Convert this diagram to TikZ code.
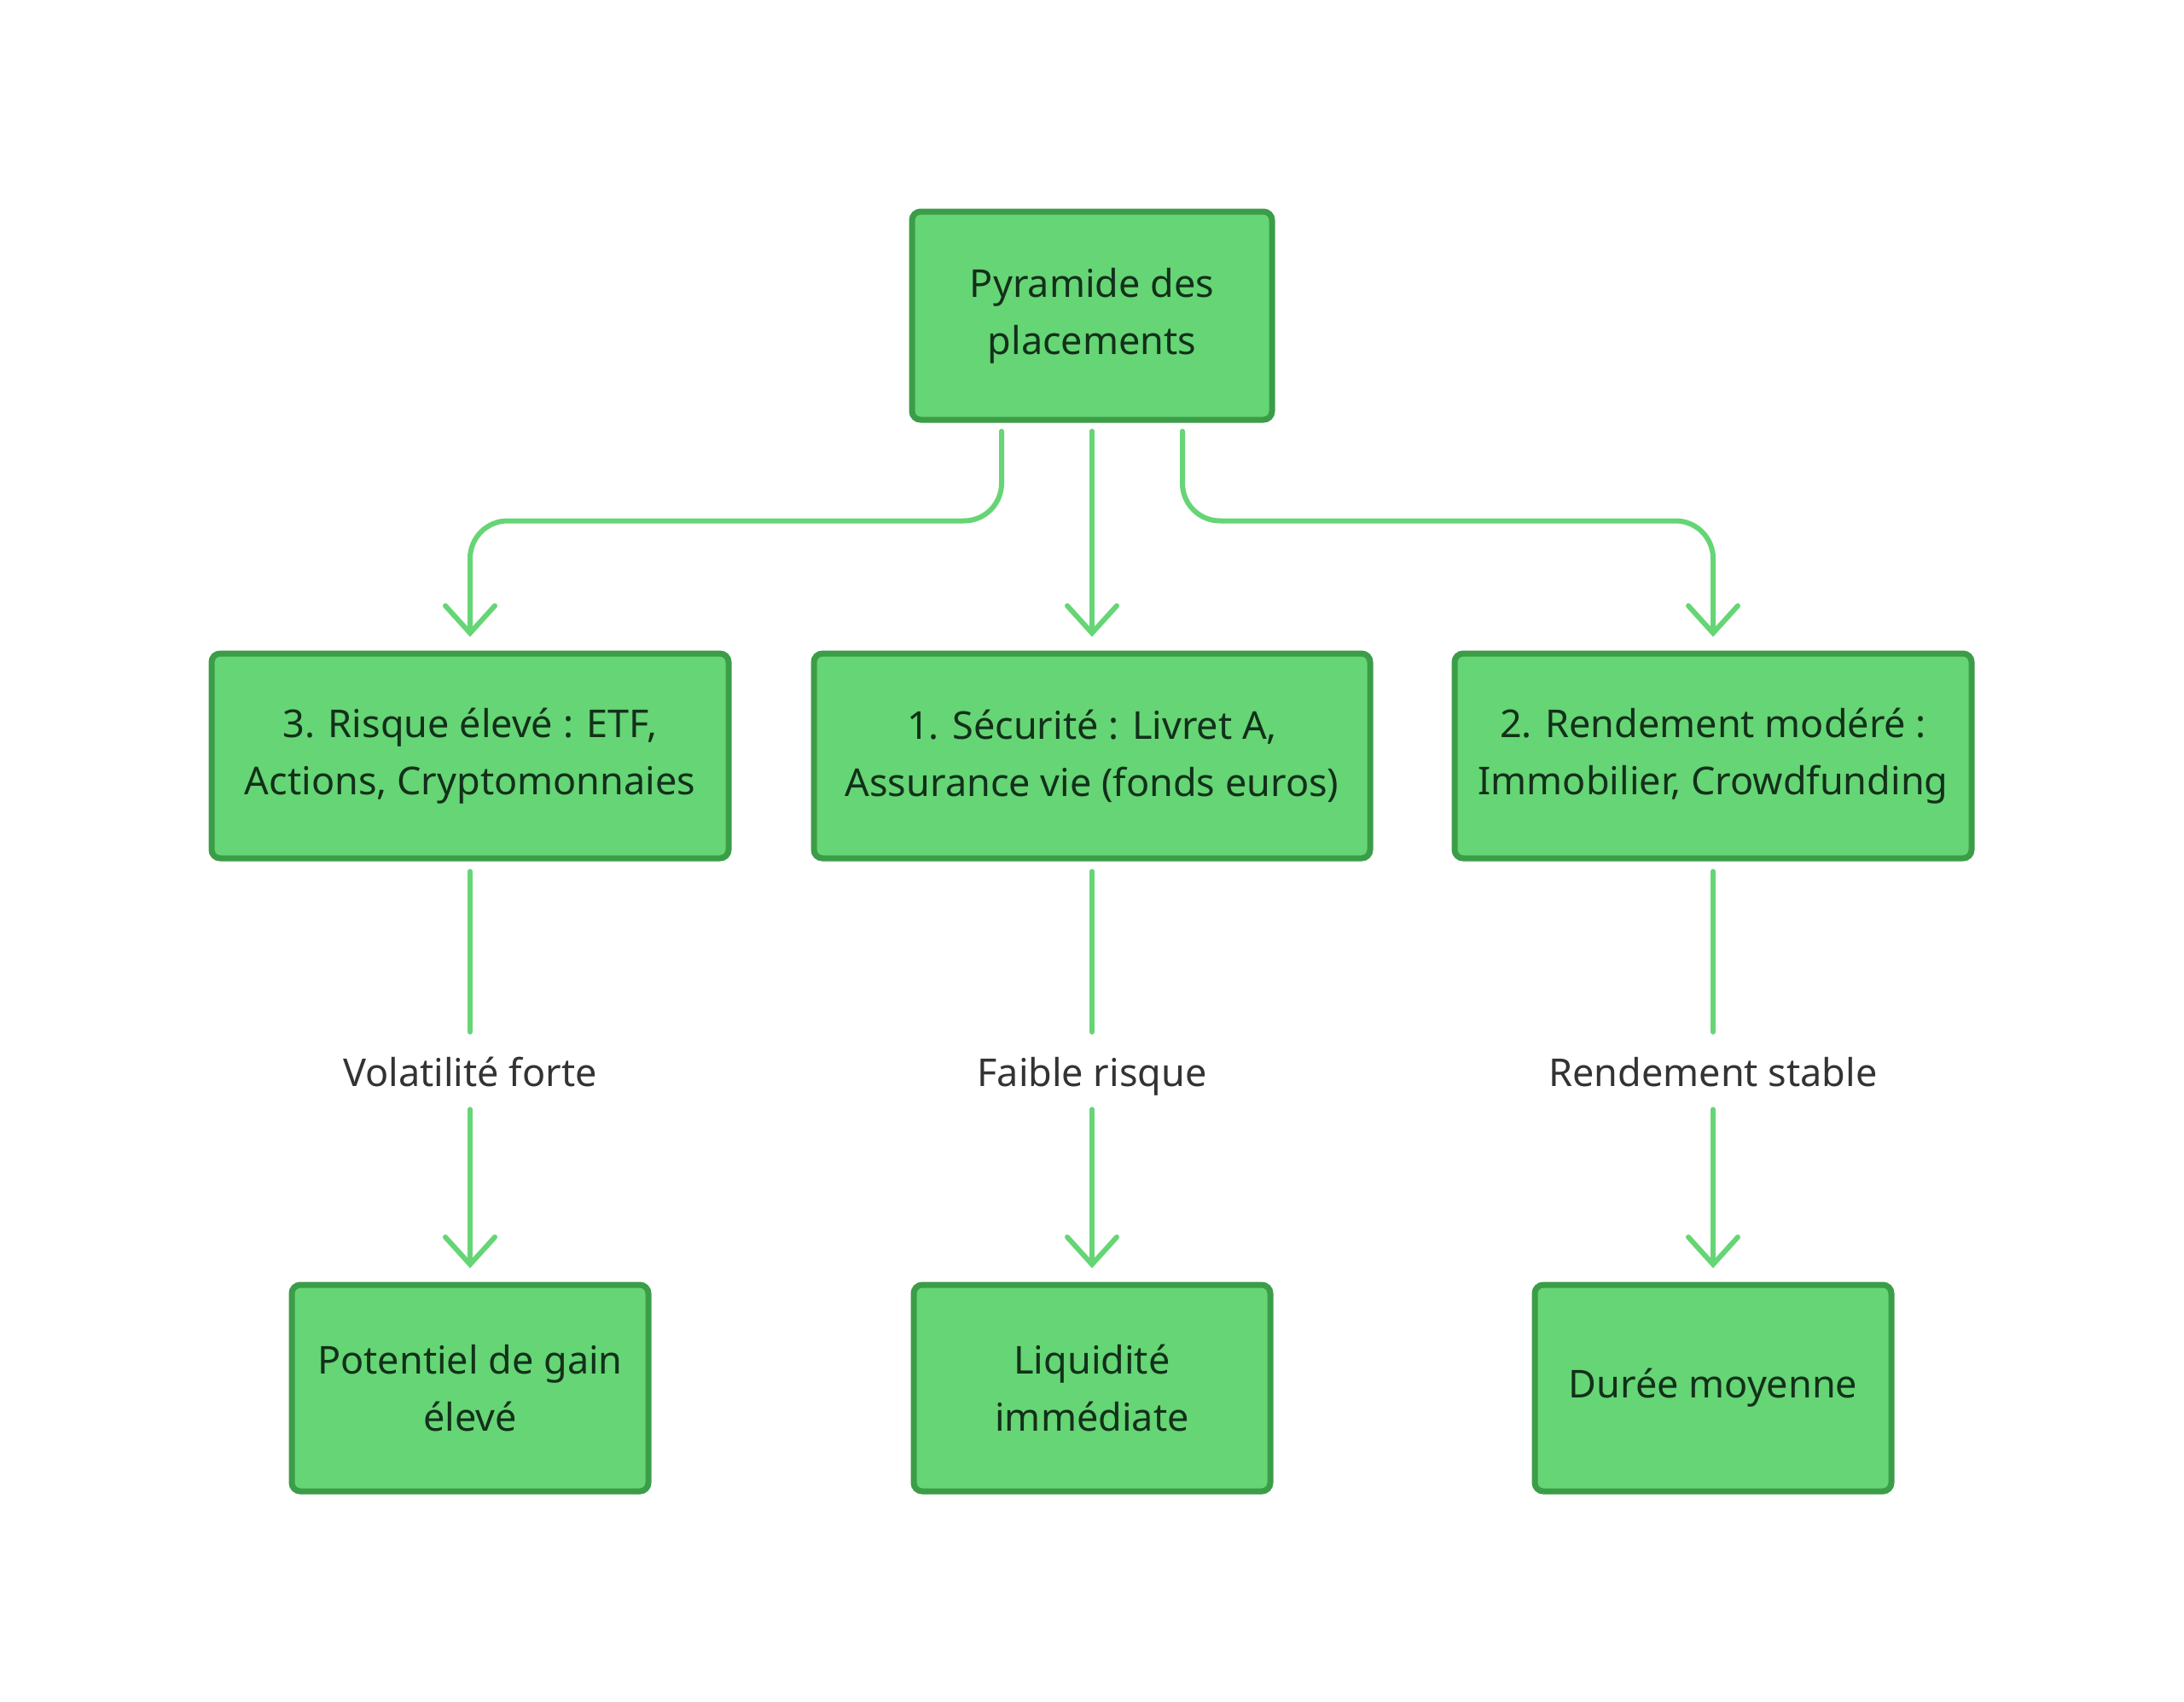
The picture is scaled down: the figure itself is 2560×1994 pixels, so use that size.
\documentclass[tikz,border=0pt]{standalone}
\usepackage{fontspec}
\setmainfont{Noto Sans}
\usetikzlibrary{arrows.meta}
\definecolor{boxfill}{HTML}{66D575}
\definecolor{boxline}{HTML}{3C9D48}
\definecolor{boxtext}{HTML}{12301A}
\definecolor{labeltext}{HTML}{333333}
\begin{document}
\begin{tikzpicture}[x=0.5pt,y=-0.5pt,
    box/.style={draw=boxline,fill=boxfill,line width=3.5pt,rounded corners=5pt,
      align=center,text=boxtext,inner sep=0pt,font=\fontsize{22.5}{33.5}\selectfont},
    wide/.style={minimum width=303pt,minimum height=120pt},
    small/.style={minimum width=209pt,minimum height=121pt},
    lbl/.style={text=labeltext,inner sep=0pt,text height=16pt,text depth=5pt,
      font=\fontsize{22.5}{33.5}\selectfont},
    link/.style={draw=boxfill,line width=3pt,line cap=round,rounded corners=22pt},
    tip/.style={-{Straight Barb[length=16pt,width=29pt,line width=3pt,line cap=round]}}]
  \useasboundingbox (0,0) rectangle (2560,1994);
  % top
  \node[box,minimum width=211pt,minimum height=122pt] (root) at (1280,370) {Pyramide des\\placements};
  % middle row
  \node[box,wide] (risk) at (551,886) {3. Risque élevé : ETF,\\Actions, Cryptomonnaies};
  \node[box,wide,minimum width=326pt] (safe) at (1280,886) {1. Sécurité : Livret A,\\Assurance vie (fonds euros)};
  \node[box,wide] (yield) at (2008,886) {2. Rendement modéré :\\Immobilier, Crowdfunding};
  % labels
  \node[lbl] (vol) at (551,1262) {Volatilité forte};
  \node[lbl] (low) at (1280,1262) {Faible risque};
  \node[lbl] (stab) at (2008,1262) {Rendement stable};
  % bottom row
  \node[box,small] (gain) at (551,1627) {Potentiel de gain\\élevé};
  \node[box,small] (liq) at (1280,1627) {Liquidité\\immédiate};
  \node[box,small] (dur) at (2008,1627) {Durée moyenne};
  % links from the top
  \draw[link,tip] ([xshift=-53pt,yshift=-5pt]root.south) -- ++(0,105) -| ([yshift=8pt]risk.north);
  \draw[link,tip] ([yshift=-5pt]root.south) -- ([yshift=8pt]safe.north);
  \draw[link,tip] ([xshift=53pt,yshift=-5pt]root.south) -- ++(0,105) -| ([yshift=8pt]yield.north);
  % links down
  \draw[link] ([yshift=-6pt]risk.south) -- ([yshift=15.5pt]vol.north);
  \draw[link,tip] ([yshift=-8.5pt]vol.south) -- ([yshift=8pt]gain.north);
  \draw[link] ([yshift=-6pt]safe.south) -- ([yshift=15.5pt]low.north);
  \draw[link,tip] ([yshift=-8.5pt]low.south) -- ([yshift=8pt]liq.north);
  \draw[link] ([yshift=-6pt]yield.south) -- ([yshift=15.5pt]stab.north);
  \draw[link,tip] ([yshift=-8.5pt]stab.south) -- ([yshift=8pt]dur.north);
\end{tikzpicture}
\end{document}
